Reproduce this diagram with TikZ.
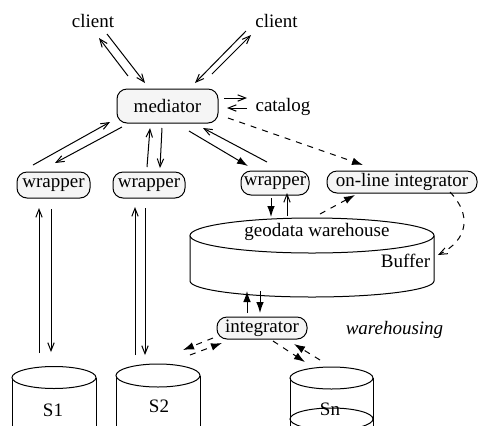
\documentclass[tikz,border=0pt]{standalone}
\usepackage{fontspec}
\setmainfont{Liberation Serif}
\usetikzlibrary{arrows.meta}
\begin{document}
\begin{tikzpicture}[x=0.5pt,y=-0.5pt,
  every node/.style={font=\fontsize{9.5}{11}\selectfont, inner sep=0pt},
  pill/.style={draw, fill=gray!8, rounded corners=5pt, line width=0.5pt},
  lnk/.style={line width=0.5pt},
  oarr/.style={lnk, -{Straight Barb[length=4pt,width=3.2pt]}},
  farr/.style={lnk, -{Latex[length=5.5pt,width=3.8pt]}},
  dsh/.style={dash pattern=on 3pt off 3pt}]
\useasboundingbox (0,0) rectangle (478,425);
\clip (0,0) rectangle (478,425);

% ---- warehouse cylinder
\draw[lnk, fill=white] (190,235.5) -- (190,281)
  arc[start angle=180, end angle=0, x radius=122, y radius=16] -- (434,235.5);
\draw[lnk, fill=white] (312,235.5) ellipse[x radius=122, y radius=17.5];
\node (gw) at (317,232) {geodata warehouse};
\node (buf) at (405.5,261) {Buffer};

% ---- source cylinders
\draw[lnk] (12,377.5) -- (12,432) (96,377.5) -- (96,432);
\draw[lnk] (54,377.5) ellipse[x radius=42, y radius=11];
\draw[lnk] (116,375.5) -- (116,432) (200,375.5) -- (200,432);
\draw[lnk] (158,375.5) ellipse[x radius=42, y radius=11.5];
\draw[lnk] (290,378) -- (290,432) (373,378) -- (373,432);
\draw[lnk] (331.5,378) ellipse[x radius=41.5, y radius=11];
\draw[lnk] (331.5,419) ellipse[x radius=41.5, y radius=11];
\node (s1) at (53,410) {S1};
\node (s2) at (159,406) {S2};
\node (sn) at (330,409) {Sn};

% ---- text labels
\node (cl1) at (93,21) {client};
\node (cl2) at (276.5,21) {client};
\node (cat) at (283,107) {catalog};
\node (wh) at (394.5,330) {\itshape warehousing};

% ---- boxes
\node[pill, minimum width=50.5pt, minimum height=17pt] (med) at (167.5,106) {mediator};
\node[pill, minimum width=36.5pt, minimum height=13pt] (w1) at (53.5,185) {wrapper};
\node[pill, minimum width=36pt, minimum height=13pt] (w2) at (149,185) {wrapper};
\node[pill, minimum width=34pt, minimum height=12pt] (w3) at (275,183) {wrapper};
\node[pill, minimum width=75pt, minimum height=11pt] (onl) at (402,182) {on-line integrator};
\node[pill, minimum width=45pt, minimum height=11pt] (intg) at (262,328) {integrator};

% ---- connector end points
\coordinate (a1s) at (128,76);  \coordinate (a1e) at (99,38);
\coordinate (a2s) at (107,34);  \coordinate (a2e) at (145,83);
\coordinate (a3s) at (246,31);  \coordinate (a3e) at (195,83);
\coordinate (a4s) at (212,74);  \coordinate (a4e) at (251,35);
\coordinate (a5s) at (224,98);  \coordinate (a5e) at (247,98);
\coordinate (a6s) at (247,108); \coordinate (a6e) at (227,108);
\coordinate (a7s) at (33,165);  \coordinate (a7e) at (110,122);
\coordinate (a8s) at (122,127); \coordinate (a8e) at (55,163);
\coordinate (a9s) at (147,167); \coordinate (a9e) at (150,128);
\coordinate (a10s) at (162,128); \coordinate (a10e) at (160,168);
\coordinate (a11s) at (189,131); \coordinate (a11e) at (248,166);
\coordinate (a12s) at (267,162); \coordinate (a12e) at (203,128);
\coordinate (a13s) at (228,118); \coordinate (a13e) at (363,165);
\coordinate (a14s) at (271,198); \coordinate (a14e) at (271,217);
\coordinate (a15s) at (287,216); \coordinate (a15e) at (287,193);
\coordinate (a16s) at (320,214); \coordinate (a16e) at (355,195);
\coordinate (a17s) at (450,192); \coordinate (a17e) at (438,255);
\coordinate (a18s) at (247,313); \coordinate (a18e) at (247,291);
\coordinate (a19s) at (260,291); \coordinate (a19e) at (260,313);
\coordinate (a20s) at (213,338); \coordinate (a20e) at (183,350);
\coordinate (a21s) at (190,355); \coordinate (a21e) at (222,343);
\coordinate (a22s) at (273,341); \coordinate (a22e) at (305,362);
\coordinate (a23s) at (320,360); \coordinate (a23e) at (294,344);
\coordinate (a24s) at (39,353);  \coordinate (a24e) at (39,208);
\coordinate (a25s) at (51,209);  \coordinate (a25e) at (51,352);
\coordinate (a26s) at (135,355); \coordinate (a26e) at (135,207);
\coordinate (a27s) at (145,208); \coordinate (a27e) at (145,355);

% ---- clients and catalog
\draw[oarr] (a1s) -- (a1e);
\draw[oarr] (a2s) -- (a2e);
\draw[oarr] (a3s) -- (a3e);
\draw[oarr] (a4s) -- (a4e);
\draw[oarr] (a5s) -- (a5e);
\draw[oarr] (a6s) -- (a6e);

% ---- mediator and wrappers
\draw[oarr] (a7s) -- (a7e);
\draw[oarr] (a8s) -- (a8e);
\draw[oarr] (a9s) -- (a9e);
\draw[oarr] (a10s) -- (a10e);
\draw[farr] (a11s) -- (a11e);
\draw[oarr] (a12s) -- (a12e);
\draw[farr, dsh] (a13s) -- (a13e);

% ---- warehouse side
\draw[farr] (a14s) -- (a14e);
\draw[oarr] (a15s) -- (a15e);
\draw[farr, dsh] (a16s) -- (a16e);
\draw[oarr, dsh] (a17s) .. controls (472,215) and (468,240) .. (a17e);
\draw[farr] (a18s) -- (a18e);
\draw[farr] (a19s) -- (a19e);

% ---- integrator and sources
\draw[farr, dsh] (a20s) -- (a20e);
\draw[farr, dsh] (a21s) -- (a21e);
\draw[farr, dsh] (a22s) -- (a22e);
\draw[farr, dsh] (a23s) -- (a23e);

% ---- wrappers and sources
\draw[oarr] (a24s) -- (a24e);
\draw[oarr] (a25s) -- (a25e);
\draw[oarr] (a26s) -- (a26e);
\draw[oarr] (a27s) -- (a27e);
\end{tikzpicture}
\end{document}
